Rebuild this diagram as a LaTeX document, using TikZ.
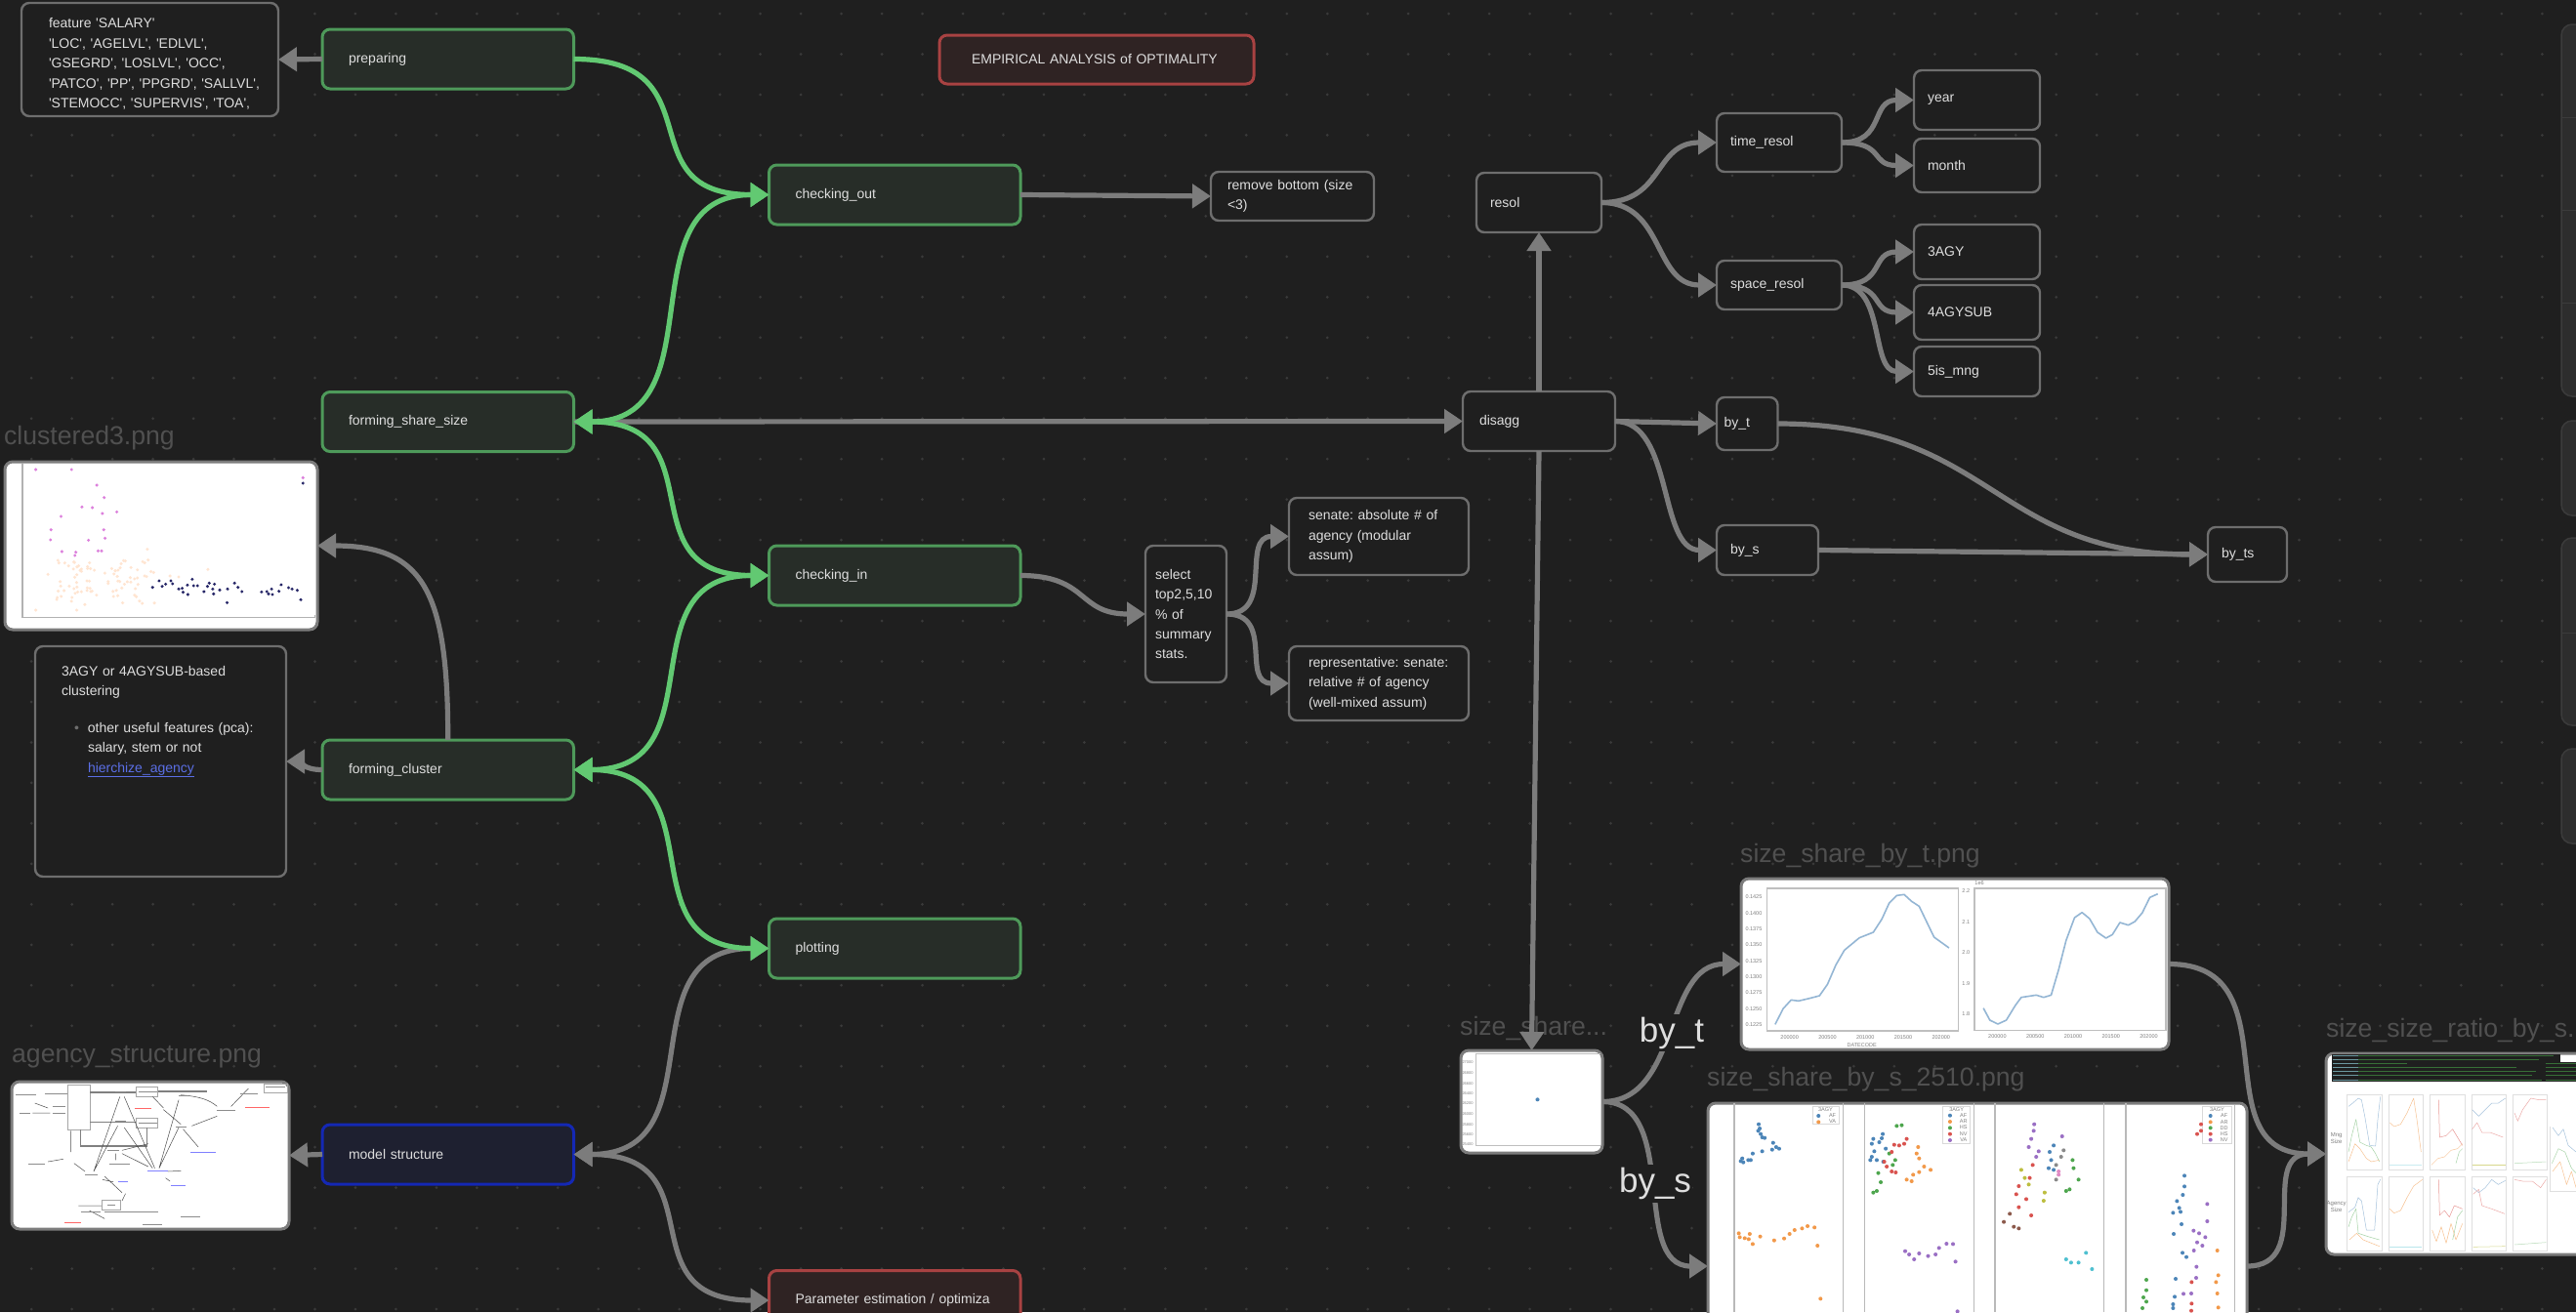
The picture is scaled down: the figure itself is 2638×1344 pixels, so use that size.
\documentclass[tikz,border=0pt]{standalone}
\usepackage{fontspec}
\setmainfont{Liberation Sans}[Ligatures=TeXOff]
\usetikzlibrary{arrows.meta}
\definecolor{canvasbg}{HTML}{1F1F1F}
\definecolor{griddot}{HTML}{3A3A3A}
\definecolor{bodytext}{HTML}{DEDEDE}
\definecolor{titlegray}{HTML}{505050}
\definecolor{plainedge}{HTML}{6E6E6E}
\definecolor{grayarrow}{HTML}{7C7C7C}
\definecolor{greenarrow}{HTML}{62C972}
\definecolor{greenedge}{HTML}{4E9A5A}
\definecolor{greenfill}{HTML}{272D28}
\definecolor{blueedge}{HTML}{1428B4}
\definecolor{bluefill}{HTML}{1E2030}
\definecolor{rededge}{HTML}{A84242}
\definecolor{redfill}{HTML}{2F2323}
\definecolor{linkblue}{HTML}{5B6FE6}
\definecolor{sidefill}{HTML}{2D2D2D}
\definecolor{sideedge}{HTML}{3B3B3B}
\definecolor{plotblue}{HTML}{4C85B8}
\definecolor{plotorange}{HTML}{F2994A}
\definecolor{plotgreen}{HTML}{4EA64E}
\definecolor{plotred}{HTML}{D9534F}
\definecolor{plotpurple}{HTML}{9A6FC4}
\definecolor{plotbrown}{HTML}{8C5A4C}
\definecolor{plotpink}{HTML}{E08AC4}
\definecolor{plotgray}{HTML}{8A8A8A}
\definecolor{plotolive}{HTML}{BDBE40}
\definecolor{plotcyan}{HTML}{4FC0D0}
\newcommand{\bodyfont}{\fontsize{14}{20.4}\selectfont\frenchspacing}
\newcommand{\scatterdots}[2]{\foreach \px/\py in {#2} \fill[#1] (\px,\py) ellipse [x radius=\dotx, y radius=\doty];}
\tikzset{
    boxcard/.style n args={3}{draw, rounded corners=8pt, anchor=north west, outer sep=0pt, align=left,
        text=bodytext, font=\bodyfont, minimum width=#1pt, minimum height=#2pt,
        inner xsep=#3pt, inner ysep=0pt, text width=#1pt-2*#3pt},
    plaincard/.style={draw=plainedge, fill=canvasbg, line width=2.4pt},
    greencard/.style={draw=greenedge, fill=greenfill, line width=3pt},
    bluecard/.style={draw=blueedge, fill=bluefill, line width=3pt},
    redcard/.style={draw=rededge, fill=redfill, line width=3pt},
    imgcard/.style n args={2}{draw=grayarrow, fill=white, line width=3pt, rounded corners=8pt, anchor=north west,
        outer sep=0pt, inner sep=0pt, minimum width=#1pt, minimum height=#2pt},
    imgtitle/.style={anchor=west, inner sep=0pt, text=titlegray, font=\fontsize{26.6}{27}\selectfont},
    edgetext/.style={fill=canvasbg, text=bodytext, inner xsep=1pt, inner ysep=3pt, font=\fontsize{35}{35}\selectfont},
    grayline/.style={draw=grayarrow, line width=5.2pt},
    greenline/.style={draw=greenarrow, line width=5.2pt},
    ticktext/.style={text=gray, inner sep=0pt, font=\fontsize{5.5}{6}\selectfont},
    thinplot/.style={line width=0.5pt, line join=round}
}
\begin{document}
\begin{tikzpicture}[x=1pt, y=-1pt, >={Triangle[length=19pt,width=24pt]}]
    \useasboundingbox (0,0) rectangle (2638,1344);
    \clip (0,0) rectangle (2638,1344);
    \fill[canvasbg] (0,0) rectangle (2638,1344);
    \foreach \i in {0,...,62}
        \foreach \j in {0,...,32}
            \fill[griddot] (32.2+41.47*\i,14+41.47*\j) circle (1.5);

    \foreach \ya/\yb in {25/406, 431/528, 551/743, 767/864}
        \draw[sidefill, fill=sidefill, draw=sideedge, line width=1.5pt, rounded corners=11pt] (2623,\ya) rectangle (2700,\yb);
    \foreach \ya in {120.5, 215.5, 310.5, 648}
        \draw[sideedge, line width=1pt] (2623,\ya) -- (2638,\ya);

    \node[boxcard={263}{116}{28}, plaincard] (feature) at (22,3) {\rule{0pt}{19pt}feature 'SALARY'\\'LOC', 'AGELVL', 'EDLVL',\\'GSEGRD', 'LOSLVL', 'OCC',\\\mbox{'PATCO', 'PP', 'PPGRD', 'SALLVL',}\\\mbox{'STEMOCC', 'SUPERVIS', 'TOA',}};
    \node[boxcard={257.5}{61}{27}, greencard] (preparing) at (330,30) {preparing};
    \node[boxcard={257.5}{61}{27}, greencard] (forming_share_size) at (330,401.5) {forming\_share\_size};
    \node[boxcard={257.5}{61}{27}, greencard] (forming_cluster) at (330,758) {forming\_cluster};
    \node[boxcard={257.5}{61}{27}, bluecard] (model_structure) at (330,1152) {model structure};
    \node[boxcard={257.5}{61}{27}, greencard] (checking_out) at (787.5,169) {checking\_out};
    \node[boxcard={257.5}{61}{27}, greencard] (checking_in) at (787.5,559) {checking\_in};
    \node[boxcard={257.5}{61}{27}, greencard] (plotting) at (787.5,941) {plotting};
    \node[boxcard={257.5}{61}{27}, redcard] (parameter) at (787.5,1301.5) {\mbox{Parameter estimation / optimiza}};
    \node[boxcard={322}{50}{33}, redcard] (empirical) at (962,36) {\mbox{EMPIRICAL ANALYSIS of OPTIMALITY}};
    \node[boxcard={167}{50}{17}, plaincard] (remove_bottom) at (1240,176) {\mbox{remove bottom (size}\\<3)};
    \node[boxcard={257}{236}{27}, plaincard] (cluster_note) at (36,662) {\parbox[c][212pt][t]{203pt}{\rule{0pt}{18.5pt}3AGY or 4AGYSUB-based\\clustering\\[17pt]\mbox{\hspace*{13pt}{\color{plainedge}\textbullet}\hspace{9pt}other useful features (pca):}\\\hspace*{27pt}salary, stem or not\\\hspace*{27pt}\textcolor{linkblue}{\underline{hierchize\_agency}}}};
    \node[boxcard={83}{140}{10}, plaincard] (select_top) at (1173,559) {select\\\mbox{top2,5,10}\\\% of\\\mbox{summary}\\stats.};
    \node[boxcard={184}{79}{20}, plaincard] (senate_abs) at (1320,510) {\mbox{senate: absolute \# of}\\agency (modular\\assum)};
    \node[boxcard={184}{76}{20}, plaincard] (senate_rel) at (1320,662) {\mbox{representative: senate:}\\relative \# of agency\\\mbox{(well-mixed assum)}};
    \node[boxcard={128}{61}{14}, plaincard] (resol) at (1512,177) {resol};
    \node[boxcard={128}{60}{14}, plaincard] (time_resol) at (1758,116) {time\_resol};
    \node[boxcard={128}{50}{14}, plaincard] (space_resol) at (1758,267) {space\_resol};
    \node[boxcard={129}{61}{14}, plaincard] (year) at (1960,72) {year};
    \node[boxcard={129}{55}{14}, plaincard] (month) at (1960,142) {month};
    \node[boxcard={129}{56}{14}, plaincard] (agy3) at (1960,230) {3AGY};
    \node[boxcard={129}{56}{14}, plaincard] (agysub4) at (1960,292) {4AGYSUB};
    \node[boxcard={129}{51}{14}, plaincard] (is_mng) at (1960,355) {5is\_mng};
    \node[boxcard={156}{61}{17}, plaincard] (disagg) at (1498,401) {disagg};
    \node[boxcard={62.5}{54}{7.5}, plaincard] (by_t) at (1758,407) {by\_t};
    \node[boxcard={104}{51}{14}, plaincard] (by_s) at (1758,538) {by\_s};
    \node[boxcard={81}{56}{14}, plaincard] (by_ts) at (2261,540) {by\_ts};

    \node[imgtitle] (clustered_title) at (4,449) {clustered3.png};
    \node[imgcard={320}{172}] (clustered) at (5,473) {};
    \node[imgtitle] (agency_title) at (12,1083) {agency\_structure.png};
    \node[imgcard={284}{151}] (agency) at (12,1108) {};
    \node[imgtitle] (share_title) at (1495,1053) {size\_share...};
    \node[imgcard={145}{105}] (share_img) at (1496,1076) {};
    \node[imgtitle] (by_t_title) at (1782,877) {size\_share\_by\_t.png};
    \node[imgcard={438}{175}] (by_t_img) at (1783,900) {};
    \node[imgtitle] (by_s_title) at (1748,1106) {size\_share\_by\_s\_2510.png};
    \node[imgcard={552}{334}] (by_s_img) at (1749,1130) {};
    \node[imgtitle] (ratio_title) at (2382,1056) {size\_size\_ratio\_by\_s.png};
    \node[imgcard={420}{206}] (ratio_img) at (2382,1079) {};

    \begin{scope}[shift={(0,430)}, xscale=1/2.24, yscale=1/3]
        \def\dotx{3.8}\def\doty{5}
        \draw[gray!60, line width=1.5pt] (52,135) -- (52,607) -- (722,607) -- (722,600);
        \pgfmathsetseed{11}
        \foreach \i in {1,...,85} {
            \pgfmathsetmacro\px{130+230*rnd}
            \pgfmathsetmacro\py{430+140*rnd}
            \fill[red!15!orange!18] (\px,\py) ellipse [x radius=\dotx, y radius=\doty];
        }
        \scatterdots{red!15!orange!18}{82/585,176/585,110/475,135/440,147/525,338/398,477/460,390/480,410/483}
        \scatterdots{violet!55!magenta!50}{82/153,164/153,222/201,239/239,188/268,212/270,235/288,268/283,140/297,117/338,238/338,116/369,203/370,241/364,142/405,174/407,172/417,225/403,233/403,695/178}
        \scatterdots{blue!30!black!85}{350/515,365/495,372/512,380/505,392/495,396/504,410/520,418/518,420/530,431/537,441/490,430/508,444/510,453/510,468/528,476/512,480/502,492/505,488/520,490/535,504/523,522/520,521/562,538/502,546/515,555/528,600/529,612/528,623/520,625/537,616/535,640/527,645/507,662/516,670/520,682/524,690/553,695/195}
    \end{scope}

    \begin{scope}[shift={(0,1040)}, xscale=1/2.24, yscale=1/3]
        \draw[gray!70, line width=0.6pt] (155,215) rectangle (207,352) (312,220) rectangle (362,250) (312,315) rectangle (362,345) (606,212) rectangle (660,238) (233,568) rectangle (277,598);
        \draw[gray, line width=1.1pt] (207,237) -- (312,237) (362,234) -- (475,234) (207,328) -- (312,328) (185,352) -- (185,402) -- (338,402) -- (338,345);
        \draw[black!70, thinplot] (275,250) -- (215,480) (270,340) -- (215,480) (285,250) -- (355,470) (285,345) -- (350,470) (410,260) -- (365,470) (410,345) -- (365,470) (162,355) -- (162,420) (170,455) -- (195,480) (110,450) -- (145,442) (350,250) -- (375,285) (375,290) -- (415,335) (385,480) -- (415,478) (280,415) -- (340,395) (265,425) -- (265,445) (280,425) -- (340,465) (235,505) -- (260,512) (380,500) -- (390,510) (420,350) -- (455,405) (415,245) .. controls (460,250) and (480,260) .. (498,280) (440,340) -- (498,310) (530,280) -- (570,225) (205,600) -- (240,625) (240,605) -- (320,605) (280,570) -- (288,548) (240,495) -- (280,545) (180,585) -- (233,585) (80,270) -- (110,285) (75,300) -- (115,300);
        \foreach \xa/\xb/\ya in {36/84/243,103/155/242,44/70/300,120/150/300,65/103/458,195/225/490,250/298/458,320/362/605,415/460/620,328/372/644,185/230/605,497/540/292,550/592/242,120/150/281,265/290/234,265/290/325,318/360/235,318/360/330,410/428/248,404/428/342,246/274/414,246/265/583,610/655/220}
            \draw[black!45, line width=0.8pt] (\xa,\ya) -- (\xb,\ya);
        \foreach \xa/\xb/\ya in {310/348/287,562/618/284,148/186/636}
            \draw[red!60, line width=0.8pt] (\xa,\ya) -- (\xb,\ya);
        \foreach \xa/\xb/\ya in {437/495/420,338/385/478,270/293/510,392/425/522}
            \draw[blue!50, line width=0.8pt] (\xa,\ya) -- (\xb,\ya);
    \end{scope}

    \begin{scope}[shift={(1450,860)}, xscale=1/1.96, yscale=1/3]
        \def\dotx{4}\def\doty{6}
        \draw[gray!50, line width=1pt] (121,658) -- (121,940) -- (370,940) (121,658) -- (370,658);
        \fill[plotblue] (244,799) ellipse [x radius=\dotx, y radius=\doty];
        \foreach \ty/\tl in {685/27000,717/26800,749/26600,780/26400,811/26200,843/26000,875/25800,906/25600,937/25400}
            \node[ticktext, font=\fontsize{4}{4}\selectfont] at (104,\ty) {\tl};

        \draw[gray!50, line width=1.5pt] (705,150) rectangle (1089,588) (1121,150) rectangle (1505,586);
        \draw[plotblue!60, line width=1.6pt, line join=round] plot coordinates {(721,568) (737,520) (753,493) (768,496) (790,488) (810,480) (826,445) (843,385) (860,340) (890,302) (918,285) (935,245) (950,195) (965,172) (980,169) (995,190) (1010,205) (1040,300) (1070,333)};
        \draw[plotblue!60, line width=1.6pt, line join=round] plot coordinates {(1139,518) (1152,555) (1168,567) (1185,555) (1203,510) (1215,485) (1245,478) (1260,485) (1275,478) (1290,400) (1305,310) (1322,240) (1337,224) (1352,243) (1368,285) (1385,303) (1398,292) (1413,255) (1430,263) (1443,252) (1458,225) (1473,178) (1489,167)};
        \foreach \ty/\tl in {176/0.1425,226/0.1400,274/0.1375,324/0.1350,373/0.1325,422/0.1300,471/0.1275,520/0.1250,569/0.1225}
            \node[ticktext] at (678,\ty) {\tl};
        \foreach \tx/\tl in {750/200000,826/200500,902/201000,978/201500,1054/202000}
            \node[ticktext] at (\tx,607) {\tl};
        \foreach \tx/\tl in {1167/200000,1243/200500,1319/201000,1395/201500,1471/202000}
            \node[ticktext] at (\tx,605) {\tl};
        \foreach \ty/\tl in {159/2.2,253/2.1,347/2.0,442/1.9,537/1.8}
            \node[ticktext] at (1104,\ty) {\tl};
        \node[ticktext] at (1131,135) {1e6};
        \node[ticktext] at (895,632) {DATECODE};

        \foreach \bx in {639,857,900,1120,1162,1381,1425}
            \draw[gray!55, line width=1.4pt] (\bx,810) -- (\bx,1452);
        \scatterdots{plotblue}{688/875,690/888,687/895,692/905,695/915,700/917,717/932,723/945,729/950,715/953,695/958,676/965,667/985,655/980,652/988,657/992,672/985}
        \scatterdots{plotorange}{648/1210,650/1222,660/1225,670/1212,668/1228,676/1243,691/1220,719/1232,739/1226,750/1212,760/1200,775/1195,786/1188,800/1192,806/1248,812/1411}
        \draw[gray!30, line width=0.5pt] (796,820) rectangle (850,875) (1056,820) rectangle (1112,935);
        \node[ticktext] at (822,829) {3AGY};
        \node[ticktext] at (1085,829) {3AGY};
        \scatterdots{plotblue}{808/849,1072/848}
        \scatterdots{plotorange}{808/868,1072/867}
        \scatterdots{plotgreen}{1072/886}
        \scatterdots{plotred}{1072/905}
        \scatterdots{plotpurple}{1072/924}
        \foreach \lx/\ly/\tl in {836/848/AF,836/867/VA,1099/848/AF,1099/866/AR,1099/885/HS,1099/904/NV,1099/923/VA}
            \node[ticktext] at (\lx,\ly) {\tl};
        \scatterdots{plotblue}{937/905,935/918,918/920,915/935,930/930,943/950,920/958,915/975,912/985,925/985,938/990}
        \scatterdots{plotgreen}{965/880,975/878,950/965,962/985,957/1000,928/1025,933/1053,925/1080,918/1085}
        \scatterdots{plotred}{960/938,970/940,985/920,980/935,955/960,940/990,945/1005,955/1020,963/1023}
        \scatterdots{plotorange}{1008/945,1005/965,1010/980,1020/1005,1033/1015,1010/1022,998/1030,985/1045,995/1050}
        \scatterdots{plotpurple}{982/1265,990/1275,1000/1290,1010/1272,1028/1280,1043/1275,1050/1255,1065/1242,1078/1243,1083/1297,1087/1450}
        \scatterdots{plotpurple}{1241/875,1240/895,1235/920,1230/945,1297/912,1250/958,1245/975}
        \scatterdots{plotblue}{1280/940,1272/960,1275/985,1270/1010,1280/1015}
        \scatterdots{plotgray}{1300/955,1295/975,1285/1000,1285/1045}
        \scatterdots{plotpink}{1290/1020,1290/1030}
        \scatterdots{plotgreen}{1318/985,1320/1010,1330/1045,1305/1080,1312/1075}
        \scatterdots{plotolive}{1215/1015,1222/1040,1230/1060,1262/1085,1260/1110}
        \scatterdots{plotred}{1238/1000,1232/1040,1210/1065,1205/1090,1210/1130,1225/1105,1235/1155}
        \scatterdots{plotbrown}{1180/1175,1192/1150,1200/1190,1210/1195}
        \scatterdots{plotcyan}{1305/1290,1315/1300,1330/1300,1345/1270,1357/1320}
    \end{scope}

    \begin{scope}[shift={(2150,880)}, xscale=1/3, yscale=1/3]
        \def\dotx{6}\def\doty{6}
        \draw[gray!55, line width=1.4pt] (415,755) -- (415,1392);
        \draw[gray!30, line width=0.5pt] (317,760) rectangle (405,875);
        \scatterdots{plotblue}{261/973,261/1006,256/1032,238/1051,245/1072,226/1087,249/1084,252/1122,228/1152,255/1210,267/1223,234/1290,231/1345,226/1368,226/1380,341/789}
        \scatterdots{plotred}{300/845,312/835,312/815,283/1300,283/1366,282/1388,341/845}
        \scatterdots{plotpurple}{331/1060,331/1113,289/1142,306/1150,325/1162,300/1178,316/1188,290/1203,298/1253,297/1287,258/1336,282/1335,341/863}
        \scatterdots{plotorange}{362/1203,365/1279,358/1300,362/1335,365/1378,341/808}
        \scatterdots{plotgreen}{144/1293,144/1325,135/1347,144/1360,132/1380,341/826}
        \node[ticktext] at (361,770) {3AGY};
        \foreach \ly/\tl in {789/AF,808/AR,826/DD,845/HS,863/NV}
            \node[ticktext] at (383,\ly) {\tl};

        \fill[black!88] (713,600) rectangle (1415,685);
        \foreach \ly/\lx in {605/1395,617/1350,629/945,641/1280,653/1340,665/1330,678/1360}
            \draw[green!40!gray, line width=0.4pt, opacity=0.55] (717,\ly) -- (\lx,\ly);
        \foreach \ly in {605,617,629,641,653,665,678}
            \draw[plotblue!70!white, line width=0.4pt, opacity=0.7] (717,\ly) -- (795,\ly);
        \fill[black!88] (1415,625) rectangle (1464,685);
        \foreach \ly in {629,641,653,665,678}
            \draw[green!40!gray, line width=0.4pt, opacity=0.55] (1370,\ly) -- (1464,\ly);
        \foreach \xa/\xb in {760/868,888/995,1015/1122,1143/1250,1270/1375} {
            \draw[gray!25, line width=0.7pt] (\xa,725) rectangle (\xb,955);
            \draw[gray!25, line width=0.7pt] (\xa,977) rectangle (\xb,1205);
        }
        \draw[gray!25, line width=0.7pt] (1385,822) -- (1385,1020) -- (1464,1020);
        \node[text=gray, inner sep=0pt, align=center, font=\fontsize{6}{7}\selectfont] at (728,857) {Mng\\Size};
        \node[text=gray, inner sep=0pt, align=center, font=\fontsize{6}{7}\selectfont] at (728,1067) {Agency\\Size};
        \draw[plotblue!50, thinplot] plot coordinates {(765,760) (778,750) (795,735) (805,740) (815,790) (830,880) (848,882) (855,800) (863,730)};
        \draw[plotgreen!50, thinplot] plot coordinates {(765,900) (775,850) (788,800) (800,870) (820,880) (835,885) (848,905) (860,930)};
        \draw[plotorange!60, thinplot] plot coordinates {(765,930) (785,875) (800,890) (820,920) (835,930) (860,925)};
        \draw[plotorange!60, thinplot] plot coordinates {(892,810) (905,822) (925,815) (945,780) (965,735) (975,800) (988,900)};
        \draw[plotcyan!30, line width=1.2pt] (892,940) -- (990,940);
        \draw[plotred!60, thinplot] plot coordinates {(1042,740) (1045,855) (1065,850) (1085,830) (1100,855) (1115,880)};
        \draw[plotorange!60, thinplot] plot coordinates {(1020,940) (1040,920) (1060,915) (1080,895) (1100,890) (1115,875)};
        \draw[plotgreen!50, thinplot] plot coordinates {(1095,935) (1105,900) (1115,890)};
        \draw[plotblue!50, thinplot] plot coordinates {(1145,770) (1165,790) (1185,770) (1205,750) (1225,750) (1247,735)};
        \draw[plotred!50, thinplot] plot coordinates {(1145,830) (1160,810) (1175,840) (1200,840) (1240,855)};
        \draw[plotolive!60, thinplot] (1145,940) -- (1247,940);
        \draw[plotred!50, thinplot] plot coordinates {(1275,780) (1285,805) (1300,770) (1325,735) (1350,740) (1372,740)};
        \draw[plotgreen!40, thinplot] (1275,935) -- (1372,930);
        \draw[plotblue!50, thinplot] plot coordinates {(1392,825) (1410,850) (1425,830) (1440,880) (1464,900)};
        \draw[plotgreen!50, thinplot] plot coordinates {(1390,935) (1410,890) (1430,900) (1450,950) (1464,965)};
        \draw[plotorange!60, thinplot] plot coordinates {(1392,960) (1415,930) (1435,1000) (1450,960) (1464,1010)};
        \draw[plotblue!50, thinplot] plot coordinates {(765,1085) (785,1070) (795,1040) (805,1050) (820,1140) (845,1140) (855,1000) (863,985)};
        \draw[plotgreen!50, thinplot] plot coordinates {(765,1130) (775,1100) (788,1075) (795,1150) (825,1160) (860,1170)};
        \draw[plotorange!60, thinplot] plot coordinates {(768,1170) (790,1150) (810,1170) (835,1180) (860,1190)};
        \draw[plotorange!60, thinplot] plot coordinates {(892,1075) (905,1088) (925,1080) (945,1040) (965,1005) (992,985)};
        \draw[plotcyan!40, line width=1pt] (892,1192) -- (990,1192);
        \draw[plotred!60, thinplot] plot coordinates {(1042,985) (1045,1095) (1060,1080) (1075,1100) (1090,1065) (1115,1075)};
        \draw[plotorange!60, thinplot] plot coordinates {(1022,1140) (1035,1175) (1050,1130) (1065,1180) (1080,1120) (1095,1170) (1115,1120)};
        \draw[plotgreen!50, thinplot] plot coordinates {(1085,1170) (1100,1100) (1115,1080)};
        \draw[plotblue!50, thinplot] plot coordinates {(1148,1010) (1165,1025) (1185,1010) (1205,985) (1225,1000) (1247,988)};
        \draw[plotred!50, thinplot] plot coordinates {(1148,1030) (1165,1015) (1175,1065) (1205,1075) (1245,1090)};
        \draw[plotolive!60, thinplot] (1148,1192) -- (1247,1190);
        \draw[plotred!50, thinplot] plot coordinates {(1275,985) (1300,990) (1330,990) (1355,1010) (1372,985)};
        \draw[plotgreen!40, thinplot] (1275,1185) -- (1372,1178);
    \end{scope}

    \draw[grayline, ->] (forming_share_size.east) -- (disagg.west);
    \draw[grayline, ->] (preparing.west) -- (feature.east);
    \draw[grayline, ->] (forming_cluster.north) .. controls +(0,-150) and +(110,0) .. (clustered.east);
    \draw[grayline, ->] (forming_cluster.west) .. controls +(-20,0) and +(14,0) .. (cluster_note.east);
    \draw[grayline, ->] (model_structure.west) -- (agency.east);
    \draw[grayline, <->] (model_structure.east) .. controls +(150,0) and +(-150,0) .. (plotting.west);
    \draw[grayline, <->] (model_structure.east) .. controls +(150,0) and +(-150,0) .. (parameter.west);
    \draw[grayline, ->] (checking_out.east) -- (remove_bottom.west);
    \draw[grayline, ->] (checking_in.east) .. controls +(70,0) and +(-70,0) .. (select_top.west);
    \draw[grayline, ->] (select_top.east) .. controls +(50,0) and +(-50,0) .. (senate_abs.west);
    \draw[grayline, ->] (select_top.east) .. controls +(50,0) and +(-50,0) .. (senate_rel.west);
    \draw[grayline, ->] (disagg.north) -- (resol.south);
    \draw[grayline, ->] (disagg.south) -- (share_img.north);
    \draw[grayline, ->] (disagg.east) -- (by_t.west);
    \draw[grayline, ->] (disagg.east) .. controls +(60,0) and +(-60,0) .. (by_s.west);
    \draw[grayline, ->] (by_t.east) .. controls +(220,0) and +(-220,0) .. (by_ts.west);
    \draw[grayline, ->] (by_s.east) -- (by_ts.west);
    \draw[grayline, ->] (resol.east) .. controls +(65,0) and +(-65,0) .. (time_resol.west);
    \draw[grayline, ->] (resol.east) .. controls +(65,0) and +(-65,0) .. (space_resol.west);
    \draw[grayline, ->] (time_resol.east) .. controls +(45,0) and +(-45,0) .. (year.west);
    \draw[grayline, ->] (time_resol.east) .. controls +(45,0) and +(-45,0) .. (month.west);
    \draw[grayline, ->] (space_resol.east) .. controls +(45,0) and +(-45,0) .. (agy3.west);
    \draw[grayline, ->] (space_resol.east) .. controls +(45,0) and +(-45,0) .. (agysub4.west);
    \draw[grayline, ->] (space_resol.east) .. controls +(45,0) and +(-45,0) .. (is_mng.west);
    \draw[grayline, ->] (share_img.east) .. controls +(80,0) and +(-80,0) .. node[edgetext] {by\_t} (by_t_img.west);
    \draw[grayline, ->] (share_img.east) .. controls +(80,0) and +(-80,0) .. node[edgetext] {by\_s} (by_s_img.west);
    \draw[grayline, ->] (by_t_img.east) .. controls +(130,0) and +(-130,0) .. (ratio_img.west);
    \draw[grayline, ->] (by_s_img.east) .. controls +(70,0) and +(-70,0) .. (ratio_img.west);

    \draw[greenline, ->] (preparing.east) .. controls +(150,0) and +(-150,0) .. (checking_out.west);
    \draw[greenline, <->] (forming_share_size.east) .. controls +(150,0) and +(-150,0) .. (checking_out.west);
    \draw[greenline, <->] (forming_share_size.east) .. controls +(150,0) and +(-150,0) .. (checking_in.west);
    \draw[greenline, <->] (forming_cluster.east) .. controls +(150,0) and +(-150,0) .. (checking_in.west);
    \draw[greenline, <->] (forming_cluster.east) .. controls +(150,0) and +(-150,0) .. (plotting.west);
\end{tikzpicture}
\end{document}
